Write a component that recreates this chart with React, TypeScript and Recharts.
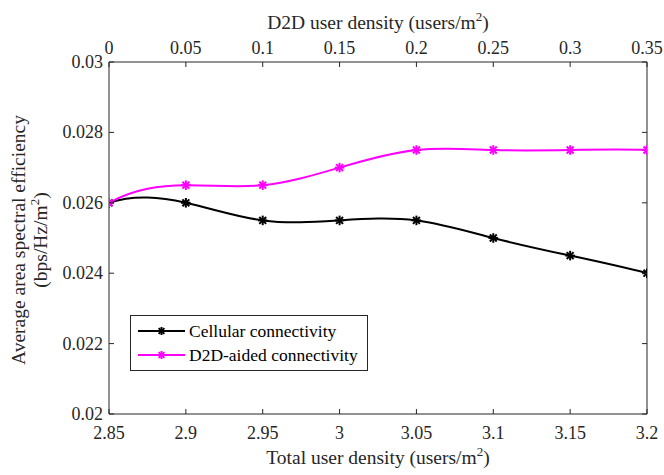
import React from 'react';
import { LineChart, Line, XAxis, YAxis } from 'recharts';

const totalDensity = [2.85, 2.9, 2.95, 3.0, 3.05, 3.1, 3.15, 3.2];
const d2dDensity = [0, 0.05, 0.1, 0.15, 0.2, 0.25, 0.3, 0.35];
const cellular = [0.026, 0.026, 0.0255, 0.0255, 0.0255, 0.025, 0.0245, 0.024];
const d2dAided = [0.026, 0.0265, 0.0265, 0.027, 0.0275, 0.0275, 0.0275, 0.0275];
const bottomTicks = [2.85, 2.9, 2.95, 3, 3.05, 3.1, 3.15, 3.2];
const topTicks = [0, 0.05, 0.1, 0.15, 0.2, 0.25, 0.3, 0.35];
const yTicks = [0.02, 0.022, 0.024, 0.026, 0.028, 0.03];
const seriesNames = ['Cellular connectivity', 'D2D-aided connectivity'];
const seriesColors = ['#000000', '#ff00ff'];

const data = totalDensity.map((x, i) => ({
  x,
  d2d: d2dDensity[i],
  cellular: cellular[i],
  aided: d2dAided[i],
}));

const FONT = '"Liberation Serif", "Times New Roman", serif';
const AXIS = '#262626';
const TXT = '#262626';
const TL = 5;
const TICK_FS = 18;
const TITLE_FS = 19.5;

const fmt = (v: number) => String(Number(v.toFixed(4)));

// Not-a-knot cubic spline curve (like MATLAB's spline) as a d3-style curve factory
function solve(A: number[][], b: number[]): number[] {
  const n = b.length;
  const M = A.map((r, i) => [...r, b[i]]);
  for (let c = 0; c < n; c++) {
    let p = c;
    for (let r = c + 1; r < n; r++) if (Math.abs(M[r][c]) > Math.abs(M[p][c])) p = r;
    [M[c], M[p]] = [M[p], M[c]];
    for (let r = 0; r < n; r++) {
      if (r === c) continue;
      const f = M[r][c] / M[c][c];
      for (let k = c; k <= n; k++) M[r][k] -= f * M[c][k];
    }
  }
  return M.map((r, i) => r[n] / r[i]);
}

function splineCurve(context: any) {
  let xs: number[] = [];
  let ys: number[] = [];
  return {
    areaStart() {},
    areaEnd() {},
    lineStart() {
      xs = [];
      ys = [];
    },
    point(x: number, y: number) {
      xs.push(+x);
      ys.push(+y);
    },
    lineEnd() {
      const n = xs.length;
      if (n === 0) return;
      context.moveTo(xs[0], ys[0]);
      if (n < 4) {
        for (let i = 1; i < n; i++) context.lineTo(xs[i], ys[i]);
        return;
      }
      const h: number[] = [];
      const del: number[] = [];
      for (let i = 0; i < n - 1; i++) {
        h.push(xs[i + 1] - xs[i]);
        del.push((ys[i + 1] - ys[i]) / h[i]);
      }
      const A: number[][] = Array.from({ length: n }, () => new Array(n).fill(0));
      const b: number[] = new Array(n).fill(0);
      A[0][0] = h[1];
      A[0][1] = h[0] + h[1];
      b[0] = ((h[0] + 2 * (h[0] + h[1])) * h[1] * del[0] + h[0] * h[0] * del[1]) / (h[0] + h[1]);
      for (let i = 1; i < n - 1; i++) {
        A[i][i - 1] = h[i];
        A[i][i] = 2 * (h[i - 1] + h[i]);
        A[i][i + 1] = h[i - 1];
        b[i] = 3 * (h[i] * del[i - 1] + h[i - 1] * del[i]);
      }
      const a = h[n - 2];
      const c = h[n - 3];
      A[n - 1][n - 2] = a + c;
      A[n - 1][n - 1] = c;
      b[n - 1] = (a * a * del[n - 3] + (2 * (c + a) + a) * c * del[n - 2]) / (c + a);
      const d = solve(A, b);
      for (let i = 0; i < n - 1; i++) {
        const t = h[i] / 3;
        context.bezierCurveTo(
          xs[i] + t,
          ys[i] + d[i] * t,
          xs[i + 1] - t,
          ys[i + 1] - d[i + 1] * t,
          xs[i + 1],
          ys[i + 1]
        );
      }
    },
  };
}

const BottomTick = (p: any) => (
  <g>
    <line x1={p.x} y1={p.y} x2={p.x} y2={p.y - TL} stroke={AXIS} strokeWidth={1} />
    <text x={p.x} y={p.y + 25} textAnchor="middle" fontFamily={FONT} fontSize={TICK_FS} fill={TXT}>
      {fmt(p.payload.value)}
    </text>
  </g>
);

const TopTick = (p: any) => (
  <g>
    <line x1={p.x} y1={p.y} x2={p.x} y2={p.y + TL} stroke={AXIS} strokeWidth={1} />
    <text x={p.x} y={p.y - 8} textAnchor="middle" fontFamily={FONT} fontSize={TICK_FS} fill={TXT}>
      {fmt(p.payload.value)}
    </text>
  </g>
);

const LeftTick = (p: any) => (
  <g>
    <line x1={p.x} y1={p.y} x2={p.x + TL} y2={p.y} stroke={AXIS} strokeWidth={1} />
    <text x={p.x - 6} y={p.y + 6} textAnchor="end" fontFamily={FONT} fontSize={TICK_FS} fill={TXT}>
      {fmt(p.payload.value)}
    </text>
  </g>
);

const RightTick = (p: any) => (
  <g>
    <line x1={p.x} y1={p.y} x2={p.x - TL} y2={p.y} stroke={AXIS} strokeWidth={1} />
  </g>
);

const StarShape = ({ cx, cy, color, r = 4.8 }: { cx: number; cy: number; color: string; r?: number }) => {
  const d = r * 0.72;
  return (
    <g stroke={color} strokeWidth={2}>
      <line x1={cx - r} y1={cy} x2={cx + r} y2={cy} />
      <line x1={cx} y1={cy - r} x2={cx} y2={cy + r} />
      <line x1={cx - d} y1={cy - d} x2={cx + d} y2={cy + d} />
      <line x1={cx - d} y1={cy + d} x2={cx + d} y2={cy - d} />
    </g>
  );
};

const Star = (color: string) => (p: any) => {
  const { cx, cy, index } = p;
  if (cx == null || cy == null) return <g key={index} />;
  return <StarShape key={index} cx={cx} cy={cy} color={color} />;
};

const LegendSvg = () => (
  <g>
    <rect x={130.5} y={315.5} width={237} height={55} fill="#ffffff" stroke={AXIS} strokeWidth={1} />
    {seriesNames.map((name, i) => {
      const y = 331 + i * 24;
      return (
        <g key={name}>
          <line x1={138} y1={y} x2={185} y2={y} stroke={seriesColors[i]} strokeWidth={2} />
          <StarShape cx={161.5} cy={y} color={seriesColors[i]} r={4} />
          <text x={189} y={y + 6} fontFamily={FONT} fontSize={17.5} fill="#000">
            {name}
          </text>
        </g>
      );
    })}
  </g>
);

const Sup = () => (
  <>
    <tspan dy={-8} fontSize={13}>2</tspan>
    <tspan dy={8}>)</tspan>
  </>
);

export default function App() {
  return (
    <div style={{ position: 'absolute', left: 0, top: 0, width: 664, height: 475, background: '#fff' }}>
      <LineChart width={664} height={475} data={data} margin={{ top: 0, right: 0, bottom: 0, left: 0 }}>
        <XAxis
          xAxisId="bottom"
          dataKey="x"
          type="number"
          domain={[2.85, 3.2]}
          ticks={bottomTicks}
          orientation="bottom"
          height={61}
          stroke={AXIS}
          tickLine={false}
          tickSize={0}
          tickMargin={0}
          tick={<BottomTick />}
          interval={0}
          allowDataOverflow
        />
        <XAxis
          xAxisId="top"
          dataKey="d2d"
          type="number"
          domain={[0, 0.35]}
          ticks={topTicks}
          orientation="top"
          height={62}
          stroke={AXIS}
          tickLine={false}
          tickSize={0}
          tickMargin={0}
          tick={<TopTick />}
          interval={0}
          allowDataOverflow
        />
        <YAxis
          yAxisId="left"
          type="number"
          domain={[0.02, 0.03]}
          ticks={yTicks}
          width={109}
          stroke={AXIS}
          tickLine={false}
          tickSize={0}
          tickMargin={0}
          tick={<LeftTick />}
          interval={0}
          allowDataOverflow
        />
        <YAxis
          yAxisId="right"
          orientation="right"
          type="number"
          domain={[0.02, 0.03]}
          ticks={yTicks}
          width={17}
          stroke={AXIS}
          tickLine={false}
          tickSize={0}
          tickMargin={0}
          tick={<RightTick />}
          interval={0}
          allowDataOverflow
        />
        <Line
          xAxisId="bottom"
          yAxisId="left"
          type={splineCurve as any}
          dataKey="cellular"
          name={seriesNames[0]}
          stroke={seriesColors[0]}
          strokeWidth={2}
          dot={Star(seriesColors[0])}
          isAnimationActive={false}
        />
        <Line
          xAxisId="bottom"
          yAxisId="left"
          type={splineCurve as any}
          dataKey="aided"
          name={seriesNames[1]}
          stroke={seriesColors[1]}
          strokeWidth={2}
          dot={Star(seriesColors[1])}
          isAnimationActive={false}
        />
        <LegendSvg />
        <text x={378} y={29} textAnchor="middle" fontFamily={FONT} fontSize={TITLE_FS} fill={TXT}>
          D2D user density (users/m
          <Sup />
        </text>
        <text x={378} y={464} textAnchor="middle" fontFamily={FONT} fontSize={TITLE_FS} fill={TXT}>
          Total user density (users/m
          <Sup />
        </text>
        <text
          transform="translate(25,240) rotate(-90)"
          textAnchor="middle"
          fontFamily={FONT}
          fontSize={TITLE_FS}
          fill={TXT}
        >
          Average area spectral efficiency
        </text>
        <text
          transform="translate(47,240) rotate(-90)"
          textAnchor="middle"
          fontFamily={FONT}
          fontSize={TITLE_FS}
          fill={TXT}
        >
          (bps/Hz/m
          <Sup />
        </text>
      </LineChart>
    </div>
  );
}
